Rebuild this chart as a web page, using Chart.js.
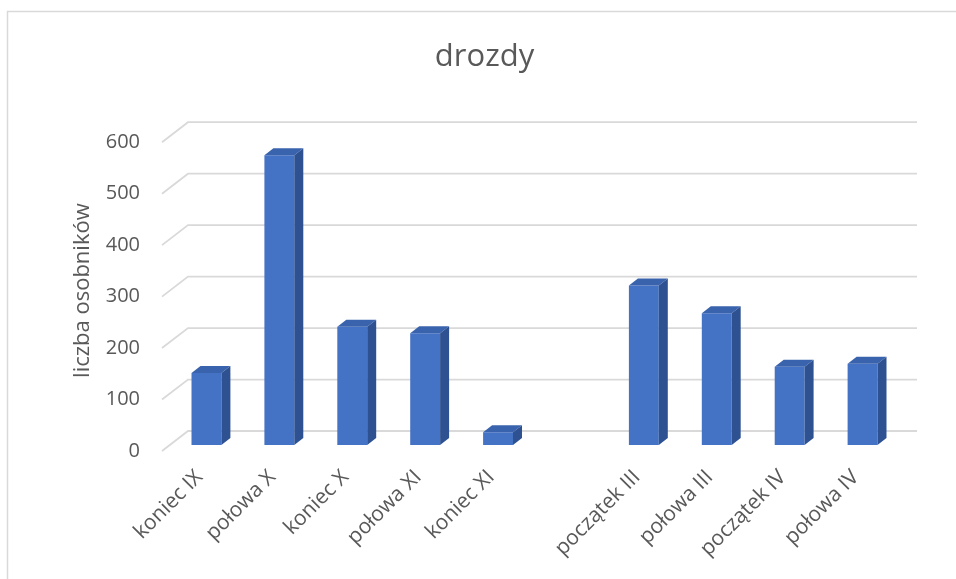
<!DOCTYPE html>
<html>
<head>
<meta charset="utf-8">
<script src="https://cdn.jsdelivr.net/npm/chart.js@4/dist/chart.umd.min.js"></script>
<style>
  html, body { margin: 0; padding: 0; background: #fff; overflow: hidden; }
  #wrap { width: 956px; height: 579px; }
</style>
</head>
<body>
<div id="wrap"><canvas id="drozdy" width="956" height="579"></canvas></div>
<script>
// Observation periods and counted birds
const periods = ["koniec IX", "połowa X", "koniec X", "połowa XI", "koniec XI", "",
                 "początek III", "połowa III", "początek IV", "połowa IV"];
const counts = [140, 563, 230, 217, 25, null, 310, 256, 152, 158];
const yTicks = [0, 100, 200, 300, 400, 500, 600];

const textGray = '#595959';
const gridGray = '#d9d9d9';
const fontFamily = "'Open Sans', 'Noto Sans', sans-serif";

// depth offsets relative to the plane the bar fronts sit on
const BACK = { dx: 18, dy: -14 };
const FRONT = { dx: -8, dy: 6 };
const BAR_DEPTH = { dx: 9, dy: -7 };

// outer frame, 3D back wall + side wall gridlines
const wallPlugin = {
  id: 'wall',
  beforeDraw(chart) {
    const ctx = chart.ctx;
    ctx.save();
    ctx.strokeStyle = gridGray;
    ctx.lineWidth = 1.5;
    ctx.beginPath();
    ctx.moveTo(7.5, 579);
    ctx.lineTo(7.5, 11.5);
    ctx.lineTo(956, 11.5);
    ctx.stroke();
    ctx.restore();
  },
  beforeDatasetsDraw(chart) {
    const ctx = chart.ctx;
    const y = chart.scales.y;
    const area = chart.chartArea;
    ctx.save();
    ctx.strokeStyle = gridGray;
    ctx.lineWidth = 1.8;
    yTicks.forEach(v => {
      const py = y.getPixelForValue(v);
      ctx.beginPath();
      ctx.moveTo(area.left + FRONT.dx, py + FRONT.dy);
      ctx.lineTo(area.left + BACK.dx, py + BACK.dy);
      ctx.lineTo(area.right + BACK.dx, py + BACK.dy);
      ctx.stroke();
    });
    ctx.restore();
  },
  afterDatasetsDraw(chart) {
    const ctx = chart.ctx;
    const meta = chart.getDatasetMeta(0);
    ctx.save();
    meta.data.forEach((bar, i) => {
      if (counts[i] == null) return;
      const p = bar.getProps(['x', 'y', 'base', 'width'], true);
      const l = p.x - p.width / 2, r = p.x + p.width / 2;
      // top face
      ctx.fillStyle = '#3a63ad';
      ctx.beginPath();
      ctx.moveTo(l, p.y);
      ctx.lineTo(l + BAR_DEPTH.dx, p.y + BAR_DEPTH.dy);
      ctx.lineTo(r + BAR_DEPTH.dx, p.y + BAR_DEPTH.dy);
      ctx.lineTo(r, p.y);
      ctx.closePath();
      ctx.fill();
      // side face
      ctx.fillStyle = '#2e5192';
      ctx.beginPath();
      ctx.moveTo(r, p.y);
      ctx.lineTo(r + BAR_DEPTH.dx, p.y + BAR_DEPTH.dy);
      ctx.lineTo(r + BAR_DEPTH.dx, p.base + BAR_DEPTH.dy);
      ctx.lineTo(r, p.base);
      ctx.closePath();
      ctx.fill();
    });
    ctx.restore();
  }
};

new Chart(document.getElementById('drozdy'), {
  type: 'bar',
  data: {
    labels: periods,
    datasets: [{
      label: 'drozdy',
      data: counts,
      backgroundColor: '#4472c4',
      borderWidth: 0,
      categoryPercentage: 1,
      barPercentage: 0.41
    }]
  },
  options: {
    responsive: false,
    animation: false,
    layout: { padding: { left: 70, right: 57, top: 0, bottom: 0 } },
    plugins: {
      legend: { display: false },
      tooltip: { enabled: false },
      title: {
        display: true,
        text: 'drozdy',
        color: textGray,
        font: { family: fontFamily, size: 31, weight: 'normal' },
        padding: { top: 39, bottom: 60 }
      }
    },
    scales: {
      x: {
        grid: { display: false },
        border: { display: false },
        ticks: {
          color: textGray,
          font: { family: fontFamily, size: 21 },
          maxRotation: 45,
          minRotation: 45,
          autoSkip: false,
          padding: 12,
          labelOffset: -7
        },
        afterFit(scale) { scale.height = 134; }
      },
      y: {
        min: 0,
        max: 600,
        grid: { display: false },
        border: { display: false },
        ticks: {
          stepSize: 100,
          color: textGray,
          font: { family: fontFamily, size: 20 },
          padding: 22,
          labelOffset: 6
        },
        title: {
          display: true,
          text: 'liczba osobników',
          color: textGray,
          font: { family: fontFamily, size: 22 },
          padding: 0
        },
        afterFit(scale) { scale.width = 100; }
      }
    }
  },
  plugins: [wallPlugin]
});
</script>
</body>
</html>
